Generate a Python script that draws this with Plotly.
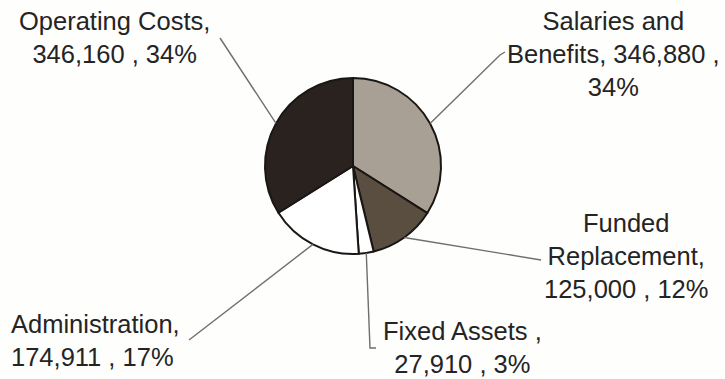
import math
import plotly.graph_objects as go

# Budget breakdown
categories = ["Salaries and Benefits", "Funded Replacement", "Fixed Assets",
              "Administration", "Operating Costs"]
values = [346880, 125000, 27910, 174911, 346160]
percents = [34, 12, 3, 17, 34]
label_lines = [
    ["Salaries and", "Benefits, 346,880 ,", "34%"],
    ["Funded", "Replacement,", "125,000 , 12%"],
    ["Fixed Assets ,", "27,910 , 3%"],
    ["Administration,", "174,911 , 17%"],
    ["Operating Costs,", "346,160 , 34%"],
]
colors = ["#a8a094", "#5a4e41", "#ffffff", "#ffffff", "#2a221e"]

W, H = 725, 379
CX, CY, R = 353, 166, 88  # pie centre and radius in pixels

# label placement (pixels): text anchor, alignment, and leader-line elbow points
label_pos = [
    dict(x=613, y=54, xanchor="center", align="center", elbow=[(500, 55), (505, 52)]),
    dict(x=626, y=256, xanchor="center", align="center", elbow=[(541, 260)]),
    dict(x=462, y=347, xanchor="center", align="center", elbow=[(370, 348), (376, 348)]),
    dict(x=9, y=340, xanchor="left", align="left", elbow=[(189, 340)]),
    dict(x=114, y=38, xanchor="center", align="center", elbow=[(220, 38)]),
]


def px(x):
    return x / W


def py(y):
    return 1 - y / H


fig = go.Figure(go.Pie(
    labels=categories,
    values=values,
    sort=False,
    direction="clockwise",
    rotation=0,
    marker=dict(colors=colors, line=dict(color="#1a1614", width=2)),
    textinfo="none",
    hoverinfo="label+value+percent",
    domain=dict(x=[px(CX - R), px(CX + R)], y=[py(CY + R), py(CY - R)]),
    showlegend=False,
))

total = sum(values)
cum = 0
shapes = []
annotations = []
for val, lines, pos in zip(values, label_lines, label_pos):
    mid = (cum + val / 2) / total * 2 * math.pi
    cum += val
    ex = CX + R * math.sin(mid)
    ey = CY - R * math.cos(mid)
    pts = [(ex, ey)] + pos["elbow"]
    path = "M " + " L ".join(f"{px(x):.5f},{py(y):.5f}" for x, y in pts)
    shapes.append(dict(type="path", path=path, xref="paper", yref="paper",
                       line=dict(color="#6e6e6e", width=1.4)))
    annotations.append(dict(
        x=px(pos["x"]), y=py(pos["y"]), xref="paper", yref="paper",
        text="<br>".join(lines), showarrow=False,
        xanchor=pos["xanchor"], yanchor="middle", align=pos["align"],
        font=dict(family="Liberation Sans, Arial, sans-serif", size=25.5, color="#242424"),
    ))

fig.update_layout(
    width=W, height=H,
    margin=dict(l=0, r=0, t=0, b=0),
    paper_bgcolor="#fefefd",
    plot_bgcolor="#fefefd",
    shapes=shapes,
    annotations=annotations,
)

fig.write_html("out.html")
